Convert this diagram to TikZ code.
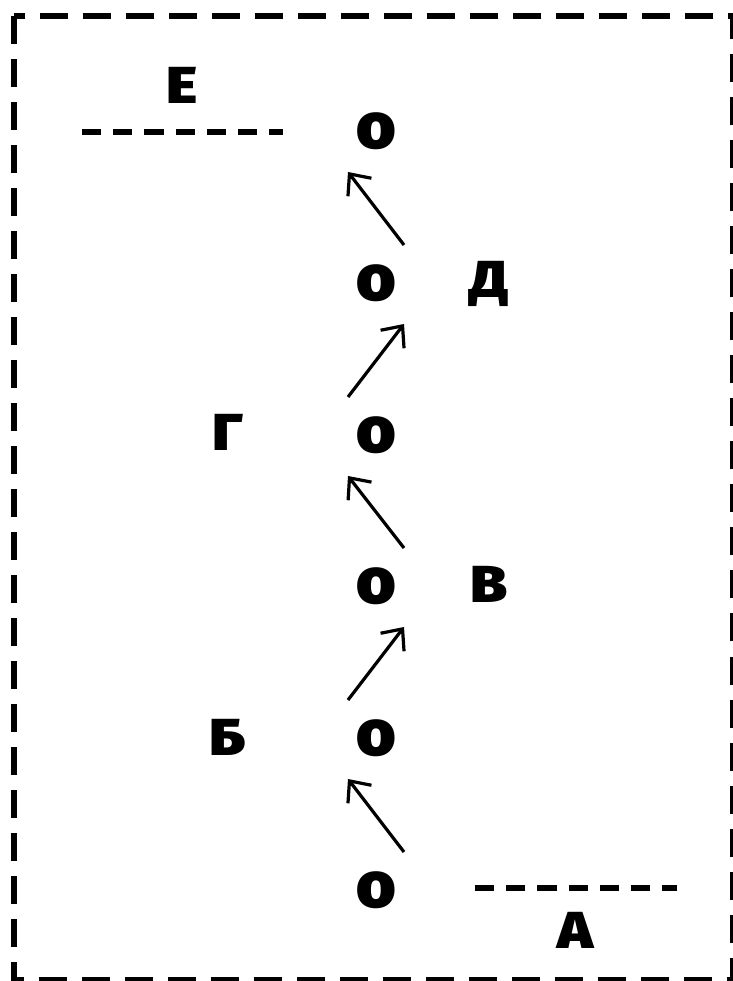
\documentclass[tikz,border=0pt]{standalone}
\usepackage{fontspec}
\setmainfont{Fira Sans}
\newfontfamily\heavyfont{Fira Sans Black}[FakeStretch=1.15]
\newfontfamily\ringfont{Fira Sans Black}[FakeStretch=1.05]
\usetikzlibrary{arrows.meta}

\tikzset{
    lbl/.style={font=\heavyfont\fontsize{37}{40}\selectfont,anchor=base,inner sep=0pt},
    pt/.style={font=\ringfont\fontsize{46}{48}\selectfont,inner sep=0pt},
    arr/.style={line width=0.08cm,-{Straight Barb[length=0.42cm,width=0.74cm,line width=0.08cm]}},
    lvl/.style={line width=0.14cm,dash pattern=on 0.48cm off 0.3cm},
    frame/.style={line width=0.17cm,dash pattern=on 0.7cm off 0.375cm}
}

\begin{document}
\begin{tikzpicture}[x=0.025cm,y=-0.025cm]
    \useasboundingbox (0,0) rectangle (732,981);
    \draw[frame] (14,16) rectangle (733,980);

    % states, bottom to top
    \node[pt] (s0) at (376,890) {o};
    \node[pt] (s1) at (376,738) {o};
    \node[pt] (s2) at (376,586) {o};
    \node[pt] (s3) at (376,435) {o};
    \node[pt] (s4) at (376,283) {o};
    \node[pt] (s5) at (376,131) {o};

    \node[lbl] (la) at (575,948) {А};
    \node[lbl] (lb) at (228,755) {Б};
    \node[lbl] (lv) at (489,602) {В};
    \node[lbl] (lg) at (228,450) {Г};
    \node[lbl] (ld) at (489,297) {Д};
    \node[lbl] (le) at (182,103) {Е};

    \draw[lvl] (475,888) -- (677,888);
    \draw[lvl] (82,132) -- (283,132);

    \draw[arr] ([shift={(28,-38)}]s0.center) -- ([shift={(-28,41)}]s1.center);
    \draw[arr] ([shift={(-28,-38)}]s1.center) -- ([shift={(28,41)}]s2.center);
    \draw[arr] ([shift={(28,-38)}]s2.center) -- ([shift={(-28,41)}]s3.center);
    \draw[arr] ([shift={(-28,-38)}]s3.center) -- ([shift={(28,41)}]s4.center);
    \draw[arr] ([shift={(28,-38)}]s4.center) -- ([shift={(-28,41)}]s5.center);
\end{tikzpicture}
\end{document}
